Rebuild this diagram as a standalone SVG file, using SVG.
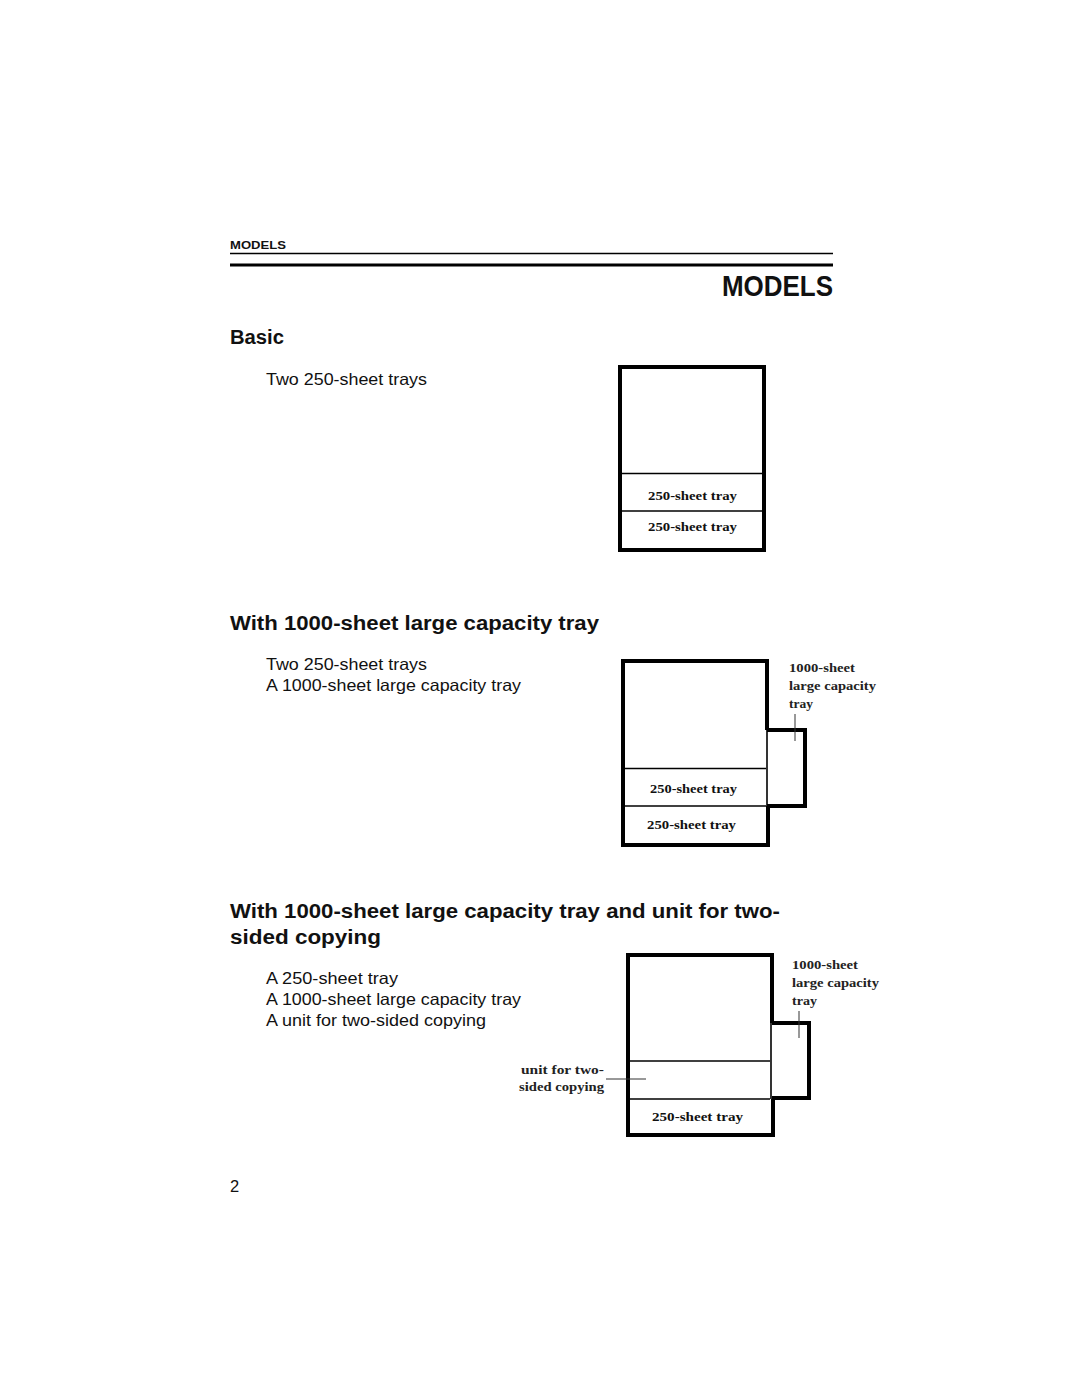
<svg xmlns="http://www.w3.org/2000/svg" width="1080" height="1397" viewBox="0 0 1080 1397">
<style>
.h{font-family:"Liberation Sans",Arial,sans-serif;font-weight:bold;fill:#111}
.b{font-family:"Liberation Sans",Arial,sans-serif;font-size:16.5px;fill:#111}
.s{font-family:"Liberation Serif","Times New Roman",serif;font-size:13.5px;font-weight:bold;fill:#111}
.n{font-weight:bold;fill:#222}
.thick{fill:none;stroke:#000;stroke-width:4}
.thin{fill:none;stroke:#000;stroke-width:1.6}
.lead{fill:none;stroke:#333;stroke-width:1}
</style>
<rect width="1080" height="1397" fill="#fff"/>
<g id="header">
<text class="h" x="230" y="249" font-size="11" textLength="56" lengthAdjust="spacingAndGlyphs">MODELS</text>
<line x1="230" y1="253.5" x2="833" y2="253.5" stroke="#000" stroke-width="1.3"/>
<line x1="230" y1="265" x2="833" y2="265" stroke="#000" stroke-width="3"/>
<text class="h" x="833" y="296" font-size="30" text-anchor="end" textLength="111" lengthAdjust="spacingAndGlyphs">MODELS</text>
</g>
<g id="basic">
<text class="h" x="230" y="344" font-size="20" textLength="54" lengthAdjust="spacingAndGlyphs">Basic</text>
<text class="b" x="266" y="385" textLength="161" lengthAdjust="spacingAndGlyphs">Two 250-sheet trays</text>
</g>
<g id="box1">
<rect class="thick" x="620" y="367" width="144" height="183"/>
<line class="thin" x1="622" y1="473.5" x2="762" y2="473.5"/>
<line class="thin" x1="622" y1="511" x2="762" y2="511"/>
<text class="s" x="648" y="500" textLength="89" lengthAdjust="spacingAndGlyphs">250-sheet tray</text>
<text class="s" x="648" y="531" textLength="89" lengthAdjust="spacingAndGlyphs">250-sheet tray</text>
</g>
<g id="section2">
<text class="h" x="230" y="630" font-size="20" textLength="369" lengthAdjust="spacingAndGlyphs">With 1000-sheet large capacity tray</text>
<text class="b" x="266" y="670" textLength="161" lengthAdjust="spacingAndGlyphs">Two 250-sheet trays</text>
<text class="b" x="266" y="691" textLength="255" lengthAdjust="spacingAndGlyphs">A 1000-sheet large capacity tray</text>
</g>
<g id="box2">
<path class="thick" d="M767,730 V661 H623 V845 H768 V806"/>
<path class="thick" d="M767,730 H805 V806 H767"/>
<line class="thin" x1="767" y1="730" x2="767" y2="806"/>
<line class="thin" x1="625" y1="768.5" x2="766" y2="768.5"/>
<line class="thin" x1="625" y1="806" x2="766" y2="806"/>
<text class="s" x="650" y="793" textLength="87" lengthAdjust="spacingAndGlyphs">250-sheet tray</text>
<text class="s" x="647" y="829" textLength="89" lengthAdjust="spacingAndGlyphs">250-sheet tray</text>
<text class="s n" x="789" y="672" textLength="66" lengthAdjust="spacingAndGlyphs">1000-sheet</text>
<text class="s n" x="789" y="690" textLength="87" lengthAdjust="spacingAndGlyphs">large capacity</text>
<text class="s n" x="789" y="708" textLength="24" lengthAdjust="spacingAndGlyphs">tray</text>
</g>
<g id="section3">
<text class="h" x="230" y="918" font-size="20" textLength="550" lengthAdjust="spacingAndGlyphs">With 1000-sheet large capacity tray and unit for two-</text>
<text class="h" x="230" y="944" font-size="20" textLength="151" lengthAdjust="spacingAndGlyphs">sided copying</text>
<text class="b" x="266" y="984" textLength="132" lengthAdjust="spacingAndGlyphs">A 250-sheet tray</text>
<text class="b" x="266" y="1005" textLength="255" lengthAdjust="spacingAndGlyphs">A 1000-sheet large capacity tray</text>
<text class="b" x="266" y="1026" textLength="220" lengthAdjust="spacingAndGlyphs">A unit for two-sided copying</text>
</g>
<g id="box3">
<path class="thick" d="M772,1023 V955 H628 V1135 H773 V1099"/>
<path class="thick" d="M772,1023 H809 V1098 H772"/>
<line class="thin" x1="771" y1="1023" x2="771" y2="1099"/>
<line class="thin" x1="630" y1="1061" x2="770" y2="1061"/>
<line class="thin" x1="630" y1="1099" x2="770" y2="1099"/>
<text class="s" x="652" y="1121" textLength="91" lengthAdjust="spacingAndGlyphs">250-sheet tray</text>
<text class="s n" x="792" y="969" textLength="66" lengthAdjust="spacingAndGlyphs">1000-sheet</text>
<text class="s n" x="792" y="987" textLength="87" lengthAdjust="spacingAndGlyphs">large capacity</text>
<text class="s n" x="792" y="1005" textLength="25" lengthAdjust="spacingAndGlyphs">tray</text>
<text class="s n" x="521" y="1074" textLength="83" lengthAdjust="spacingAndGlyphs">unit for two-</text>
<text class="s n" x="519" y="1091" textLength="85" lengthAdjust="spacingAndGlyphs">sided copying</text>
</g>
<g id="connectors">
<line class="lead" x1="795" y1="714" x2="795" y2="741"/>
<line class="lead" x1="606" y1="1079" x2="646" y2="1079"/>
<line class="lead" x1="799" y1="1011" x2="799" y2="1038"/>
</g>
<text class="b" x="230" y="1192" font-size="16">2</text>
</svg>
